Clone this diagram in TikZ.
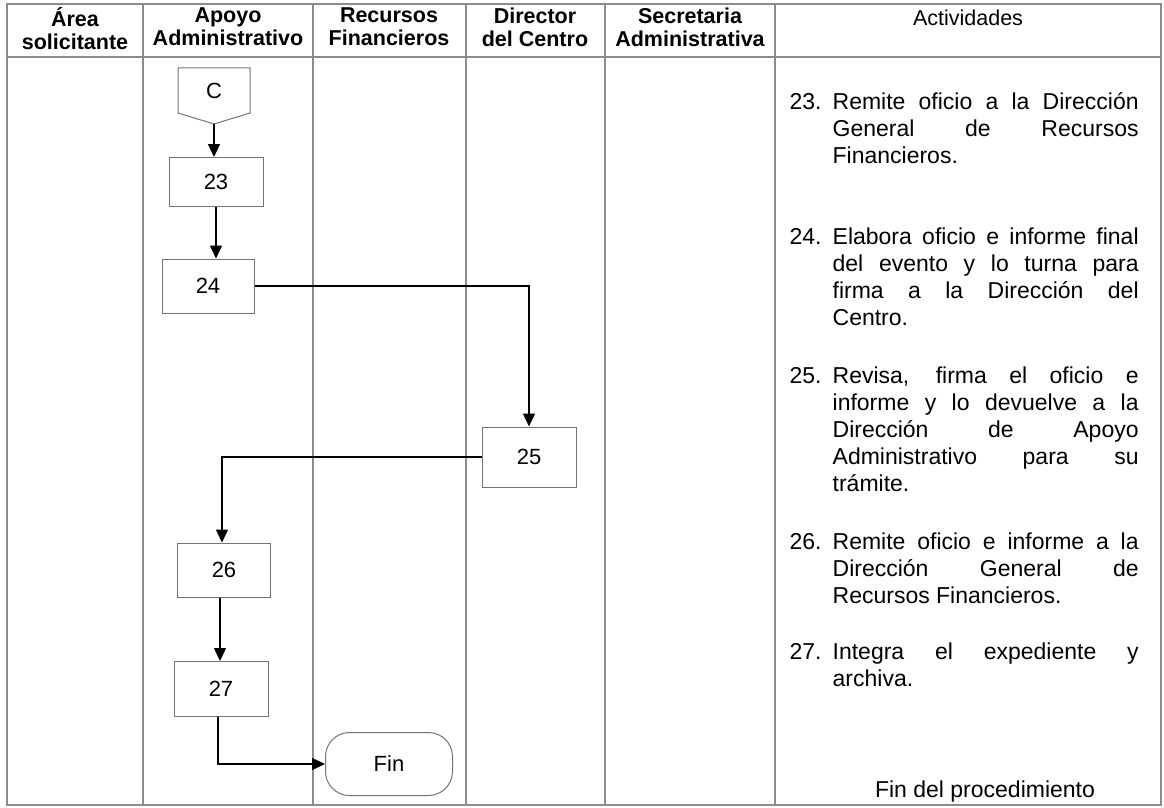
\documentclass[tikz,border=0pt]{standalone}
\usepackage{fontspec}
\setmainfont{Liberation Sans}
\usetikzlibrary{arrows.meta}

% one justified line of the activities column
\newcommand{\actline}[1]{\makebox[306pt][s]{#1}}

\begin{document}
\begin{tikzpicture}[x=1pt, y=-1pt, line width=1.3pt,
                    grid/.style={draw=black!45, line width=1.4pt},
                    box/.style={draw=black!55, line width=1pt, minimum width=94pt, minimum height=52pt,
                                inner sep=0pt, font=\fontsize{22}{22}\selectfont},
                    hdr/.style={font=\fontsize{21.5}{23}\selectfont\bfseries, align=center, inner sep=0pt, anchor=north},
                    act/.style={font=\fontsize{23}{27}\selectfont, inner sep=0pt, anchor=base west},
                    flow/.style={draw=black, line width=1.3pt, -{Triangle[length=13pt, width=12pt]}}]

% full original canvas
\useasboundingbox (0,0) rectangle (1164,808);

% ---- table frame ----
\draw[grid] (7,4) rectangle (1161,805);
\draw[grid] (7,57) -- (1161,57);
\foreach \x in {143,313,466,605,775}
  \draw[grid] (\x,4) -- (\x,805);

% ---- header ----
\node[hdr] (hArea) at (75,7)  {Área\\solicitante};
\node[hdr] (hApoyo) at (228,7) {Apoyo\\Administrativo};
\node[hdr] (hRec) at (389,7)  {Recursos\\Financieros};
\node[hdr] (hDir) at (535,7)  {Director\\del Centro};
\node[hdr] (hSec) at (690,7)  {Secretaria\\Administrativa};
\node[hdr, font=\fontsize{21.5}{23}\selectfont] (hAct) at (968,9) {Actividades};

% ---- off-page connector C ----
\coordinate (Ctl) at (178,68);  \coordinate (Ctr) at (250,68);
\coordinate (Cbr) at (250,113); \coordinate (Cbl) at (178,113);
\coordinate (Ctip) at (214,124);
\draw[draw=black!55, line width=1pt] (Ctl) -- (Ctr) -- (Cbr) -- (Ctip) -- (Cbl) -- cycle;
\node[font=\fontsize{22}{22}\selectfont] (C) at (214,91) {C};

% ---- process boxes ----
\node[box, minimum height=49pt] (b23) at (216,182) {23};
\node[box, minimum width=92pt, minimum height=54pt] (b24) at (208,286) {24};
\node[box, minimum height=60pt] (b25) at (529,457) {25};
\node[box, minimum width=93pt, minimum height=54pt] (b26) at (224,570) {26};
\node[box, minimum height=55pt] (b27) at (221,689) {27};
\node[draw=black!55, line width=1pt, rounded corners=24pt, minimum width=127pt, minimum height=63pt,
      font=\fontsize{22}{22}\selectfont] (fin) at (389,764) {Fin};

% ---- flow ----
\draw[flow] (Ctip) -- (Ctip |- b23.north);
\draw[flow] (b23.south) -- (b23.south |- b24.north);
\draw[flow] (b24.east) -| (b25.north);
\draw[flow] (b25.west) -| ([xshift=-2pt]b26.north);
\draw[flow] ([xshift=-4pt]b26.south) -- ([xshift=-4pt]b26.south |- b27.north);
\draw[flow] ([xshift=-3pt]b27.south) |- (fin.west);

% ---- activities ----
\node[act] (n23) at (789,109) {23.};
\node[act] (t23) at (832,109) {\parbox[t]{306pt}{\actline{Remite oficio a la Dirección}\\
  \actline{General de Recursos}\\ Financieros.}};

\node[act] (n24) at (789,244) {24.};
\node[act] (t24) at (832,244) {\parbox[t]{306pt}{\actline{Elabora oficio e informe final}\\
  \actline{del evento y lo turna para}\\ \actline{firma a la Dirección del}\\ Centro.}};

\node[act] (n25) at (789,383) {25.};
\node[act] (t25) at (832,383) {\parbox[t]{306pt}{\actline{Revisa, firma el oficio e}\\
  \actline{informe y lo devuelve a la}\\ \actline{Dirección de Apoyo}\\
  \actline{Administrativo para su}\\ trámite.}};

\node[act] (n26) at (789,549) {26.};
\node[act] (t26) at (832,549) {\parbox[t]{306pt}{\actline{Remite oficio e informe a la}\\
  \actline{Dirección General de}\\ Recursos Financieros.}};

\node[act] (n27) at (789,659) {27.};
\node[act] (t27) at (832,659) {\parbox[t]{306pt}{\actline{Integra el expediente y}\\ archiva.}};

\node[act, anchor=base] (tFin) at (985,797) {Fin del procedimiento};

\end{tikzpicture}
\end{document}
